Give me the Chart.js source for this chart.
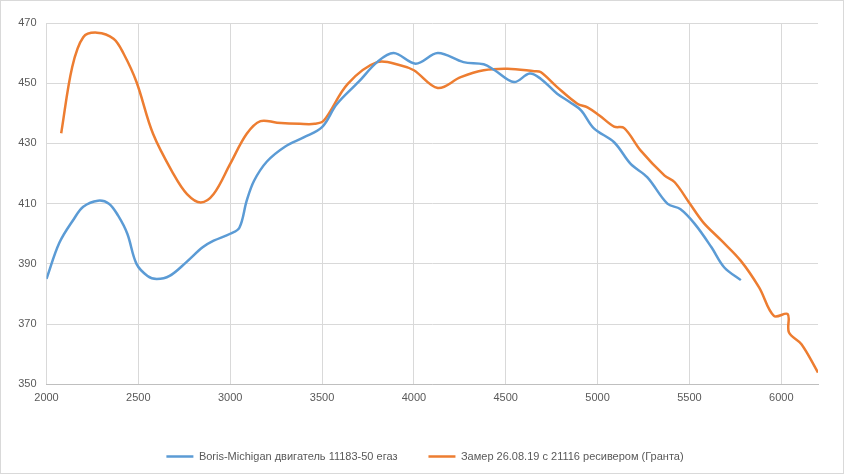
<!DOCTYPE html>
<html>
<head>
<meta charset="utf-8">
<script src="https://cdn.jsdelivr.net/npm/chart.js@4/dist/chart.umd.min.js"></script>
<style>
html,body{margin:0;padding:0;background:#fff;}
#wrap{width:845px;height:476px;position:relative;}
</style>
</head>
<body>
<div id="wrap"><canvas id="c" width="845" height="476"></canvas></div>
<script>
const seriesNames = ["Boris-Michigan двигатель 11183-50 егаз", "Замер 26.08.19 с 21116 ресивером (Гранта)"];

const blueRpm = [2000,2070,2150,2200,2280,2340,2390,2440,2490,2550,2600,2670,2760,2850,2910,3000,3050,3090,3130,3200,3300,3400,3500,3580,3700,3800,3890,4010,4130,4270,4380,4440,4545,4630,4690,4780,4850,4910,4980,5090,5180,5270,5380,5450,5530,5620,5690,5780];
const blueTorque = [385,397,405,409,411,410,406,400,390,386,385,386,390.5,395.5,397.7,400,402,411,417.6,424,429,432,435.4,443,450.5,457,460,456.5,460,457,456.3,454.3,450.4,453.2,451.5,446.5,443.7,441,435,430.4,423.2,418.8,410,408.2,403.2,395.5,388.8,384.6];

const orangeRpm = [2080,2140,2200,2275,2365,2420,2490,2580,2690,2765,2840,2910,3000,3090,3165,3255,3380,3460,3510,3640,3800,3930,4000,4130,4255,4380,4510,4655,4690,4780,4890,4945,5010,5090,5145,5235,5365,5420,5500,5575,5675,5780,5880,5960,6035,6042,6110,6200];
const orangeTorque = [433.4,455.4,465.3,466.8,464.8,459.8,450.4,433.2,420,413.2,410.4,413.2,423.2,433.2,437.4,436.9,436.5,436.5,437.6,449.8,457,455.9,454.3,448.4,452,454.3,454.8,454,453.7,448.7,443.2,442,439.3,435.6,435.1,427.6,419.3,417.1,410.2,403.8,397.7,391,382.1,372.7,373.3,367.2,363.3,353.9];

const xTickValues = [2000,2500,3000,3500,4000,4500,5000,5500,6000];
const xMin = 2000, xMax = 6200;
const yTickValues = [350,370,390,410,430,450,470];
const yMin = 350, yMax = 470;

function pts(xs, ys){ return xs.map((x,i)=>({x:x, y:ys[i]})); }

const FONT = "'Liberation Sans', Arial, sans-serif";
const borderPlugin = {
  id:'outerBorder',
  afterDraw(chart){
    const ctx = chart.ctx;
    ctx.save();
    ctx.strokeStyle = '#d9d9d9';
    ctx.lineWidth = 1;
    ctx.strokeRect(0.5,0.5,843,473);
    ctx.restore();
  }
};
const bgPlugin = {
  id:'bg',
  beforeDraw(chart){
    const ctx = chart.ctx;
    ctx.save();
    ctx.fillStyle = '#fff';
    ctx.fillRect(0,0,chart.width,chart.height);
    ctx.restore();
  }
};
const legendShift = {
  id:'legendShift',
  afterLayout(chart){
    if (chart.legend){ chart.legend.left += 16; chart.legend.right += 16; }
  }
};

new Chart(document.getElementById('c'), {
  type:'line',
  data:{
    datasets:[
      {label:seriesNames[0], data:pts(blueRpm, blueTorque), borderColor:'#5b9bd5', backgroundColor:'#5b9bd5', borderWidth:2.5, pointRadius:0, tension:0.35, fill:false},
      {label:seriesNames[1], data:pts(orangeRpm, orangeTorque), borderColor:'#ed7d31', backgroundColor:'#ed7d31', borderWidth:2.5, pointRadius:0, tension:0.35, fill:false}
    ]
  },
  options:{
    responsive:false,
    animation:false,
    layout:{padding:{top:23, right:27, left:0, bottom:4}},
    scales:{
      x:{
        type:'linear', min:xMin, max:xMax,
        afterFit(scale){ scale.height = 35.7; },
        afterBuildTicks(scale){ scale.ticks = xTickValues.map(v=>({value:v})); },
        ticks:{color:'#595959', font:{family:FONT, size:11}, padding:7, maxRotation:0, autoSkip:false,
          callback:(v)=>String(v)},
        grid:{color:'#d9d9d9', drawTicks:false, lineWidth:1},
        border:{color:'#bfbfbf', width:1}
      },
      y:{
        min:yMin, max:yMax,
        afterFit(scale){ scale.width = 46.5; },
        afterBuildTicks(scale){ scale.ticks = yTickValues.map(v=>({value:v})); },
        ticks:{color:'#595959', font:{family:FONT, size:11}, padding:10},
        grid:{color:'#d9d9d9', drawTicks:false, lineWidth:1},
        border:{display:false}
      }
    },
    plugins:{
      tooltip:{enabled:false},
      legend:{
        position:'bottom',
        labels:{
          boxWidth:27, boxHeight:2.5, padding:31, color:'#595959', font:{family:FONT, size:11},
          generateLabels(chart){
            const items = Chart.defaults.plugins.legend.labels.generateLabels(chart);
            items.forEach(it=>{ it.lineWidth = 0; });
            return items;
          }
        }
      }
    }
  },
  plugins:[bgPlugin, borderPlugin, legendShift]
});
</script>
</body>
</html>
